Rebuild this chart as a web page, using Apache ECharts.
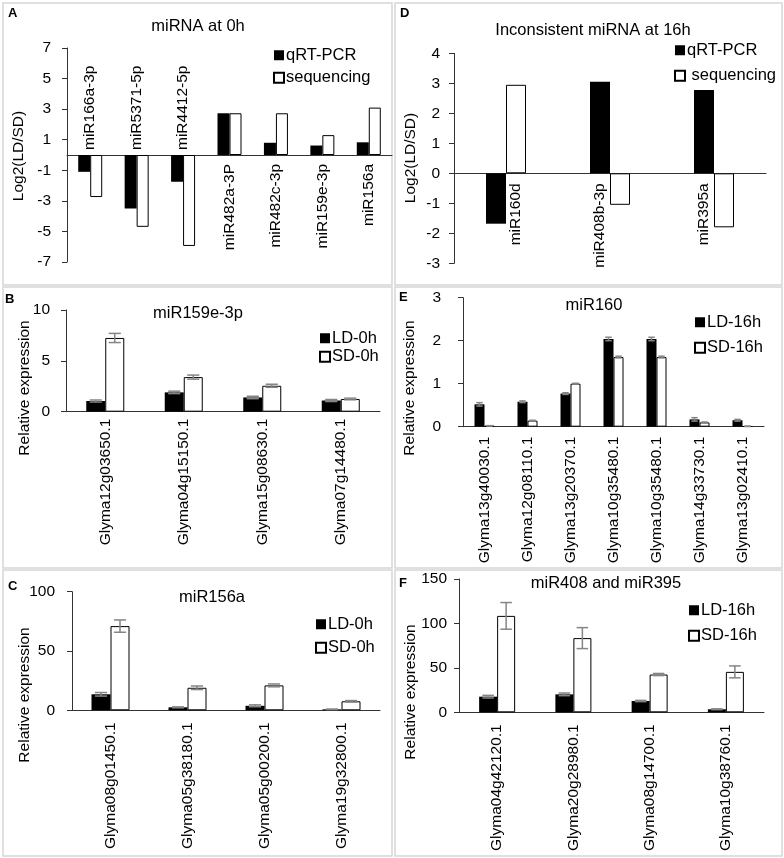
<!DOCTYPE html>
<html>
<head>
<meta charset="utf-8">
<script src="https://cdn.jsdelivr.net/npm/echarts@6/dist/echarts.min.js"></script>
<style>
html,body{margin:0;padding:0;background:#fff;}
#chart{width:784px;height:858px;}
</style>
</head>
<body>
<div id="chart"></div>
<script>
// ---------- DATA ----------
const A_cats = ['miR166a-3p','miR5371-5p','miR4412-5p','miR482a-3P','miR482c-3p','miR159e-3p','miR156a'];
const A_qrt  = [-1.1, -3.5, -1.75, 2.73, 0.8, 0.62, 0.83];
const A_seq  = [-2.75, -4.7, -5.95, 2.73, 2.73, 1.3, 3.1];

const D_cats = ['miR160d','miR408b-3p','miR395a'];
const D_qrt  = [-1.68, 3.05, 2.78];
const D_seq  = [2.95, -1.05, -1.8];

const B_cats   = ['Glyma12g03650.1','Glyma04g15150.1','Glyma15g08630.1','Glyma07g14480.1'];
const B_ld     = [1.05, 1.9, 1.4, 1.1];
const B_ld_err = [0.1, 0.12, 0.12, 0.1];
const B_sd     = [7.25, 3.4, 2.55, 1.25];
const B_sd_err = [0.45, 0.2, 0.15, 0.08];

const C_cats   = ['Glyma08g01450.1','Glyma05g38180.1','Glyma05g00200.1','Glyma19g32800.1'];
const C_ld     = [13.5, 2.5, 3.8, 0.8];
const C_ld_err = [1.5, 0.4, 0.8, 0.2];
const C_sd     = [71, 19, 21, 7.6];
const C_sd_err = [5.2, 1.5, 1.2, 0.6];

const E_cats   = ['Glyma13g40030.1','Glyma12g08110.1','Glyma13g20370.1','Glyma10g35480.1','Glyma10g35480.1','Glyma14g33730.1','Glyma13g02410.1'];
const E_ld     = [0.52, 0.58, 0.77, 2.04, 2.04, 0.17, 0.15];
const E_ld_err = [0.04, 0.02, 0.02, 0.04, 0.04, 0.04, 0.02];
const E_sd     = [0.02, 0.14, 1.0, 1.62, 1.62, 0.1, 0.01];
const E_sd_err = [0.005, 0.01, 0.01, 0.02, 0.02, 0.01, 0.005];

const F_cats   = ['Glyma04g42120.1','Glyma20g28980.1','Glyma08g14700.1','Glyma10g38760.1'];
const F_ld     = [17.6, 20.2, 12.7, 3.4];
const F_ld_err = [1.5, 1.5, 0.7, 0.5];
const F_sd     = [108.5, 83.5, 42.5, 45.5];
const F_sd_err = [15, 11.8, 1.2, 6.7];

// ---------- STYLE ----------
const FONT = 'Liberation Sans, Arial, sans-serif';
const AXIS = '#333';
const BLACK_BAR = {color:'#000'};
const WHITE_BAR = {color:'#fff', borderColor:'#000', borderWidth:1};

const chart = echarts.init(document.getElementById('chart'), null, {renderer:'canvas'});

// grid layouts: [left, top, width, height]
const panels = [
  {key:'A', grid:[67, 48, 325, 214],  cats:A_cats, min:-7, max:7,   interval:2,  labMargin:16, xLabel:false},
  {key:'D', grid:[454, 53.3, 312, 210], cats:D_cats, min:-3, max:4, interval:1,  labMargin:14, xLabel:false},
  {key:'B', grid:[66, 310, 314, 101.7], cats:B_cats, min:0, max:10,  interval:5,  labMargin:16, xLabel:true, xMargin:7},
  {key:'C', grid:[72, 591.7, 308, 118.6], cats:C_cats, min:0, max:100, interval:50, labMargin:17, xLabel:true, xMargin:12},
  {key:'E', grid:[463, 297.7, 301, 129], cats:E_cats, min:0, max:3,  interval:1,  labMargin:22, xLabel:true, xMargin:10},
  {key:'F', grid:[459, 579, 305, 133.3], cats:F_cats, min:0, max:150, interval:50, labMargin:12, xLabel:true, xMargin:12}
];

const grid = panels.map(p => ({left:p.grid[0], top:p.grid[1], width:p.grid[2], height:p.grid[3], containLabel:false}));
const xAxis = panels.map((p, gi) => ({
  type:'category', gridIndex:gi, data:p.cats,
  axisLine:{show:true, onZero:true, lineStyle:{color:AXIS, width:1}},
  axisTick:{show:false},
  axisLabel:{show:p.xLabel, rotate:90, interval:0, margin:p.xMargin||8, fontSize:15.5, color:'#000', fontFamily:FONT},
  splitLine:{show:false}
}));
const yAxis = panels.map((p, gi) => ({
  type:'value', gridIndex:gi, min:p.min, max:p.max, interval:p.interval,
  axisLine:{show:true, onZero:false, lineStyle:{color:AXIS, width:1}},
  axisTick:{show:true, inside:false, length:5, lineStyle:{color:AXIS}},
  axisLabel:{margin:p.labMargin, fontSize:15.5, color:'#000', fontFamily:FONT},
  splitLine:{show:false}
}));

function barSeries(name, gi, data, style, bw) {
  return {type:'bar', name:name, xAxisIndex:gi, yAxisIndex:gi, data:data, barWidth:bw, barGap:'0%',
          itemStyle:style, emphasis:{disabled:true}, animation:false};
}
function errSeries(gi, vals, errs, side, bw) {
  return {
    type:'custom', xAxisIndex:gi, yAxisIndex:gi, z:5, silent:true, animation:false,
    data: vals.map((v,i) => [i, v, errs[i]]),
    encode:{x:0, y:1},
    renderItem: function(params, api) {
      const i = api.value(0), v = api.value(1), e = api.value(2);
      const top = api.coord([i, v + e]);
      const bot = api.coord([i, v - e]);
      const x = top[0] + side * bw / 2;
      const cap = Math.max(3, bw * 0.32);
      const st = {stroke:'#858585', lineWidth:1.5};
      return {type:'group', children:[
        {type:'line', shape:{x1:x, y1:top[1], x2:x, y2:bot[1]}, style:st},
        {type:'line', shape:{x1:x-cap, y1:top[1], x2:x+cap, y2:top[1]}, style:st},
        {type:'line', shape:{x1:x-cap, y1:bot[1], x2:x+cap, y2:bot[1]}, style:st}
      ]};
    }
  };
}
// category names written beside the zero line, on the side away from the bars
function catLabelSeries(gi, cats, s1, s2, bw, distAbove, distBelow) {
  return {
    type:'custom', xAxisIndex:gi, yAxisIndex:gi, z:6, silent:true, animation:false,
    data: cats.map((c,i) => [i, s1[i], s2[i]]),
    encode:{x:0, y:1},
    renderItem: function(params, api) {
      const i = api.value(0), v1 = api.value(1), v2 = api.value(2);
      const p = api.coord([i, 0]);
      const above = Math.max(v1, v2) < 0;
      let side = 0;
      if (v1 >= 0 && v2 < 0) side = -1;
      else if (v1 < 0 && v2 >= 0) side = 1;
      const x = p[0] + side * bw / 2;
      const y = above ? p[1] - distAbove : p[1] + distBelow;
      return {type:'text', x:x, y:y, rotation:Math.PI/2,
        style:{text:cats[params.dataIndex], fill:'#000', font:'15.5px ' + FONT,
               align: above ? 'left' : 'right', verticalAlign:'middle'}};
    }
  };
}

const series = [
  barSeries('qRT-PCR', 0, A_qrt, BLACK_BAR, 12),
  barSeries('sequencing', 0, A_seq, WHITE_BAR, 12),
  catLabelSeries(0, A_cats, A_qrt, A_seq, 12, 5, 9),

  barSeries('qRT-PCR', 1, D_qrt, BLACK_BAR, 20),
  barSeries(' sequencing', 1, D_seq, WHITE_BAR, 20),
  catLabelSeries(1, D_cats, D_qrt, D_seq, 20, 5, 10),

  barSeries('LD-0h', 2, B_ld, BLACK_BAR, 19),
  barSeries('SD-0h', 2, B_sd, WHITE_BAR, 19),
  errSeries(2, B_ld, B_ld_err, -1, 19),
  errSeries(2, B_sd, B_sd_err, 1, 19),

  barSeries('LD-0h', 3, C_ld, BLACK_BAR, 19),
  barSeries('SD-0h', 3, C_sd, WHITE_BAR, 19),
  errSeries(3, C_ld, C_ld_err, -1, 19),
  errSeries(3, C_sd, C_sd_err, 1, 19),

  barSeries('LD-16h', 4, E_ld, BLACK_BAR, 10),
  barSeries('SD-16h', 4, E_sd, WHITE_BAR, 10),
  errSeries(4, E_ld, E_ld_err, -1, 10),
  errSeries(4, E_sd, E_sd_err, 1, 10),

  barSeries('LD-16h', 5, F_ld, BLACK_BAR, 18),
  barSeries('SD-16h', 5, F_sd, WHITE_BAR, 18),
  errSeries(5, F_ld, F_ld_err, -1, 18),
  errSeries(5, F_sd, F_sd_err, 1, 18)
];

function legend(names, left, top, gap) {
  return {data:names, orient:'vertical', left:left, top:top, itemGap:gap, padding:0,
          itemWidth:10, itemHeight:10, icon:'rect', selectedMode:false,
          textStyle:{fontSize:16.5, color:'#000', fontFamily:FONT, padding:[0,0,0,-3]}};
}
const legends = [
  legend(['qRT-PCR','sequencing'], 273, 46.75, 5.5),
  legend(['qRT-PCR',' sequencing'], 674, 41.75, 8.5),
  legend(['LD-0h','SD-0h'], 319, 329.75, 1.5),
  legend(['LD-0h','SD-0h'], 315, 615.75, 6.5),
  legend(['LD-16h','SD-16h'], 694, 313.75, 8.5),
  legend(['LD-16h','SD-16h'], 688, 601.75, 8.5)
];

// frames, panel letters, titles, axis names
const graphics = [];
const frameStyle = {fill:'none', stroke:'#d6d6d6', lineWidth:1.5};
[[3,3,389,282],[3,287,389,281],[3,570,389,286],[395,3,387,282],[395,287,387,281],[395,570,387,286]]
  .forEach(r => graphics.push({type:'rect', shape:{x:r[0], y:r[1], width:r[2], height:r[3]}, style:frameStyle, silent:true}));
[['A',8,13],['D',400,13],['B',5,299],['C',8,586],['E',399,297],['F',399,583]].forEach(l =>
  graphics.push({type:'text', x:l[1], y:l[2], style:{text:l[0], font:'bold 13px ' + FONT, fill:'#000', align:'left', verticalAlign:'middle'}, silent:true}));
[['miRNA at 0h',198,26],['Inconsistent miRNA at 16h',593,30],['miR159e-3p',198,313],['miR156a',212,597],['miR160',594,305],['miR408 and miR395',606,583]].forEach(t =>
  graphics.push({type:'text', x:t[1], y:t[2], style:{text:t[0], font:'16.5px ' + FONT, fill:'#000', align:'center', verticalAlign:'middle'}, silent:true}));
[['Log2(LD/SD)',19,156],['Log2(LD/SD)',411,158],['Relative expression',25,388],['Relative expression',25,695],['Relative expression',410,388],['Relative expression',411,692]].forEach(t =>
  graphics.push({type:'text', x:t[1], y:t[2], rotation:Math.PI/2, style:{text:t[0], font:'15.5px ' + FONT, fill:'#000', align:'center', verticalAlign:'middle'}, silent:true}));

chart.setOption({
  animation:false,
  backgroundColor:'#fff',
  textStyle:{fontFamily:FONT},
  grid:grid, xAxis:xAxis, yAxis:yAxis, series:series, legend:legends, graphic:graphics
});
</script>
</body>
</html>
